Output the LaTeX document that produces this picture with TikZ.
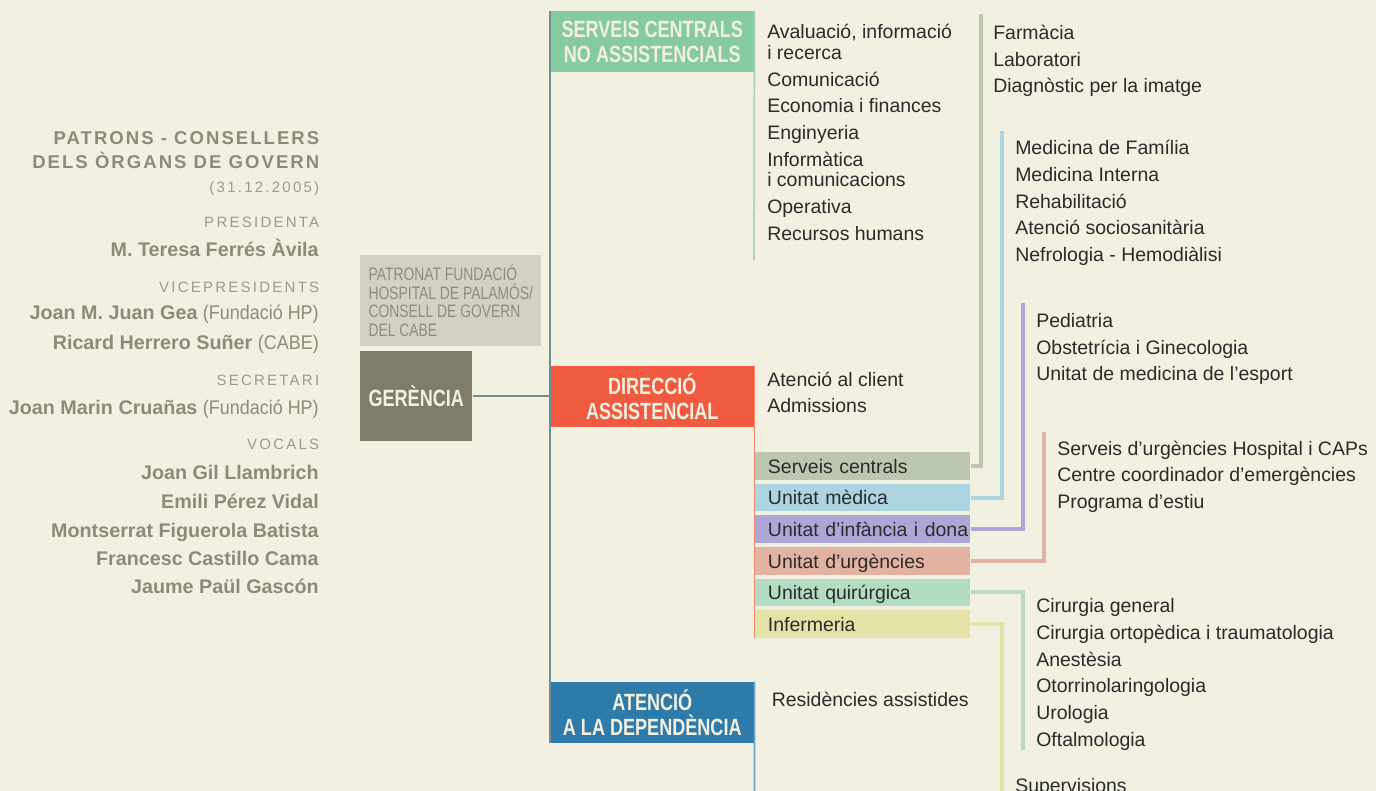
\documentclass[tikz,border=0pt]{standalone}
\usepackage{fontspec}
\setmainfont{Liberation Sans}
\newfontfamily\condfont{Liberation Sans}[FakeStretch=0.77]
\newfontfamily\narrowfont{Liberation Sans}[FakeStretch=0.91]
\newfontfamily\trackfont{Liberation Sans}[LetterSpace=11]
\newfontfamily\widefont{Liberation Sans}[LetterSpace=15]
\definecolor{paper}{HTML}{F2F0E1}
\definecolor{cream}{HTML}{F3F0DF}
\definecolor{ink}{HTML}{2B2B2B}
\definecolor{leftgray}{HTML}{8C8A78}
\definecolor{rolegray}{HTML}{9C9A8A}
\definecolor{patfill}{HTML}{D3D1C3}
\definecolor{pattext}{HTML}{8E8C7C}
\definecolor{gerfill}{HTML}{7F7D6A}
\definecolor{mainline}{HTML}{6E908C}
\definecolor{fscn}{HTML}{86CA9F}
\definecolor{lscn}{HTML}{A3D6B4}
\definecolor{fda}{HTML}{F05A40}
\definecolor{lda}{HTML}{F2876A}
\definecolor{fatd}{HTML}{2E7BAA}
\definecolor{latd}{HTML}{6AA3CC}
\definecolor{fsc}{HTML}{BCC7B0}
\definecolor{fum}{HTML}{ACD4E1}
\definecolor{fui}{HTML}{ADA7D7}
\definecolor{fuu}{HTML}{E2B3A2}
\definecolor{fuq}{HTML}{B3DDC3}
\definecolor{fue}{HTML}{E5E2A7}

\begin{document}
\begin{tikzpicture}[x=0.75pt,y=-0.75pt,
  lhead/.style={anchor=base east,inner sep=0,text=leftgray,font=\trackfont\bfseries\fontsize{13.9pt}{16pt}\selectfont},
  lrole/.style={anchor=base east,inner sep=0,text=rolegray,font=\widefont\fontsize{11.25pt}{13pt}\selectfont},
  lname/.style={anchor=base east,inner sep=0,text=leftgray,font=\bfseries\fontsize{14.8pt}{17pt}\selectfont},
  item/.style={anchor=base west,inner sep=0,text=ink,font=\fontsize{14.6pt}{17pt}\selectfont},
  headbox/.style={anchor=north west,inner sep=0,minimum width=153pt,minimum height=45.75pt,align=center,text=cream,font=\condfont\bfseries\fontsize{17.6pt}{18.5pt}\selectfont},
  unitbox/.style={anchor=north west,inner xsep=9.5pt,inner ysep=0,minimum width=161.25pt,minimum height=20.6pt,text width=142.25pt,align=left,text height=13pt,text depth=2pt,text=ink,font=\fontsize{14.6pt}{17pt}\selectfont},
  link/.style={line width=3pt},
  boxline/.style={line width=1.3pt}]

  \useasboundingbox (0,0) rectangle (1376,791);
  \clip (0,0) rectangle (1376,791);
  \fill[paper] (0,0) rectangle (1376,791);

  % patrons column
  \node[lhead] (t1) at (319.5,145) {PATRONS - CONSELLERS};
  \node[lhead] (t2) at (319.5,169) {DELS ÒRGANS DE GOVERN};
  \node[lrole] (t3) at (319.5,193) {(31.12.2005)};
  \node[lrole] (r1) at (319.5,228) {PRESIDENTA};
  \node[lname] (n1) at (319,257) {M. Teresa Ferrés Àvila};
  \node[lrole] (r2) at (319.5,292) {VICEPRESIDENTS};
  \node[lname] (n2) at (319,320) {Joan M. Juan Gea {\narrowfont\mdseries (Fundació HP)}};
  \node[lname] (n3) at (319,349) {Ricard Herrero Suñer {\narrowfont\mdseries (CABE)}};
  \node[lrole] (r3) at (319.5,385) {SECRETARI};
  \node[lname] (n4) at (319,414) {Joan Marin Cruañas {\narrowfont\mdseries (Fundació HP)}};
  \node[lrole] (r4) at (319.5,449) {VOCALS};
  \foreach \y/\txt [count=\i] in {479/Joan Gil Llambrich, 508/Emili Pérez Vidal, 537/Montserrat Figuerola Batista, 565/Francesc Castillo Cama, 593/Jaume Paül Gascón}
    \node[lname] (v\i) at (319,\y) {\txt};

  % governing boxes
  \node[anchor=north west,fill=patfill,text=pattext,inner sep=0,minimum width=135.75pt,minimum height=68.25pt,align=left,
        font=\condfont\fontsize{13.5pt}{13.9pt}\selectfont] (pat) at (360,255)
        {PATRONAT FUNDACIÓ\\HOSPITAL DE PALAMÓS/\\CONSELL DE GOVERN\\DEL CABE};
  \node[headbox,fill=gerfill,minimum width=84pt,minimum height=67.5pt] (ger) at (360,350.7) {GERÈNCIA};

  \node[headbox,fill=fscn] (scn) at (550,11) {SERVEIS CENTRALS\\NO ASSISTENCIALS};
  \node[headbox,fill=fda] (da) at (550,366) {DIRECCIÓ\\ASSISTENCIAL};
  \node[headbox,fill=fatd] (atd) at (550,681.7) {ATENCIÓ\\A LA DEPENDÈNCIA};

  \draw[mainline,line width=1pt] (scn.north west) -- (atd.south west);
  \draw[mainline,line width=1pt] (ger.east) -- (ger.east -| scn.west);

  \coordinate (scn-end) at (754,260);
  \coordinate (atd-end) at (754.5,800);
  \draw[boxline,lscn] (scn.north east) -- (scn-end);
  \draw[boxline,latd] (atd.north east) -- (atd-end);

  % units
  \foreach \name/\col/\txt [count=\i from 0] in {sc/fsc/Serveis centrals, um/fum/Unitat mèdica, ui/fui/Unitat d’infància i dona, uu/fuu/Unitat d’urgències, uq/fuq/Unitat quirúrgica, ue/fue/Infermeria}
    \node[unitbox,fill=\col] (\name) at (755,452+31.6*\i) {\mbox{\txt}};
  \draw[boxline,lda] (da.north east) -- (da.north east |- ue.south);

  \foreach \name/\col/\x/\y in {sc/fsc/981/14, um/fum/1002/131, ui/fui/1023/303, uu/fuu/1044/432, uq/fuq/1023/750, ue/fue/1002/800}{
    \coordinate (\name-end) at (\x,\y);
    \draw[link,\col] (\name.east) -| (\name-end);
  }

  % item lists
  \foreach \y/\txt [count=\i] in {39/{Avaluació, informació}, 60/i recerca, 86.5/Comunicació, 113/Economia i finances, 139.5/Enginyeria, 166.5/Informàtica, 187/i comunicacions, 213.5/Operativa, 240.5/Recursos humans}
    \node[item] (nas\i) at (767,\y) {\txt};
  \node[item] (da1) at (767,386) {Atenció al client};
  \node[item] (da2) at (767,412.7) {Admissions};
  \node[item] (atd1) at (771.5,706) {Residències assistides};

  \foreach \y/\txt [count=\i] in {40/Farmàcia, 66.5/Laboratori, 93/Diagnòstic per la imatge}
    \node[item] (sc\i) at (993,\y) {\txt};
  \foreach \y/\txt [count=\i] in {155/Medicina de Família, 181.7/Medicina Interna, 208.3/Rehabilitació, 235/Atenció sociosanitària, 261.7/Nefrologia - Hemodiàlisi}
    \node[item] (um\i) at (1015,\y) {\txt};
  \foreach \y/\txt [count=\i] in {327.3/Pediatria, 354/Obstetrícia i Ginecologia, 380.7/Unitat de medicina de l’esport}
    \node[item] (ui\i) at (1036,\y) {\txt};
  \foreach \y/\txt [count=\i] in {455/Serveis d’urgències Hospital i CAPs, 481.7/Centre coordinador d’emergències, 508.3/Programa d’estiu}
    \node[item] (uu\i) at (1057,\y) {\txt};
  \foreach \y/\txt [count=\i] in {612.7/Cirurgia general, 639.3/Cirurgia ortopèdica i traumatologia, 666/Anestèsia, 692.7/Otorrinolaringologia, 719.3/Urologia, 746/Oftalmologia}
    \node[item] (uq\i) at (1036,\y) {\txt};
  \node[item] (ue1) at (1015,792) {Supervisions};

\end{tikzpicture}
\end{document}
